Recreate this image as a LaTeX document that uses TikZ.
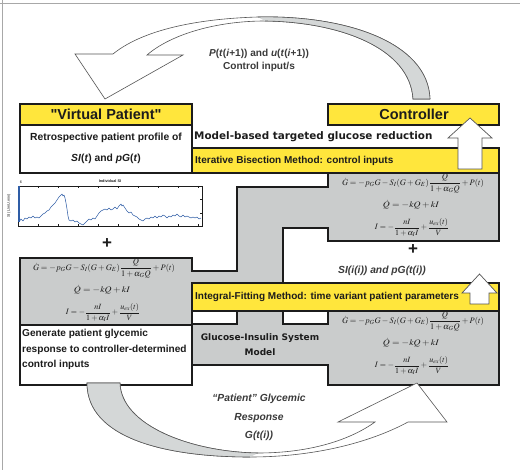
\documentclass[tikz,border=0pt]{standalone}
\usepackage{amsmath}
\usepackage{mathptmx}
\usepackage[no-math]{fontspec}
\setmainfont{Liberation Sans}
\newfontfamily\heavyfont{DejaVu Sans}
\newfontfamily\plainfont{Liberation Sans}[Ligatures=TeXOff]
\usetikzlibrary{calc}
\definecolor{vpink}{HTML}{1C1C1C}
\definecolor{vpsoft}{HTML}{3A3A3A}
\definecolor{vpyellow}{HTML}{FFE63C}
\definecolor{vpgray}{HTML}{CACCCC}
\definecolor{vptwist}{HTML}{D4D7D7}
\definecolor{vpedge}{HTML}{555555}
\definecolor{vpframe}{HTML}{A8A8A8}
\definecolor{vpblue}{HTML}{2F5DA6}
\newcommand\widen[1]{\scalebox{1.15}[1]{#1}}

\begin{document}
\begin{tikzpicture}[x=1pt, y=-1pt, font=\bfseries\fontsize{10.3}{12}\selectfont, text=vpink,
    outerframe/.style={draw=vpframe, line width=0.9pt},
    panel/.style={fill=vpgray, draw=vpink, line width=1.5pt},
    hdr/.style={fill=vpyellow, draw=vpink, line width=1.5pt},
    card/.style={fill=white, draw=vpink, line width=1.5pt},
    ribbon/.style={fill=white, draw=vpedge, line width=0.6pt},
    twist/.style={fill=vptwist, draw=none},
    uparrow/.style={fill=white, draw=vpedge, line width=0.7pt},
    boxtitle/.style={font=\plainfont\bfseries\fontsize{14.5}{16}\selectfont},
    heavy/.style={font=\heavyfont\bfseries\fontsize{10.4}{12}\selectfont, anchor=west, inner sep=0pt},
    method/.style={font=\bfseries\fontsize{10}{12}\selectfont, anchor=west, inner sep=0pt},
    eqn/.style={font=\fontsize{8.4}{9}\selectfont, inner sep=0pt},
    flow/.style={text=vpsoft, align=center, inner sep=0pt},
    plus/.style={font=\bfseries\fontsize{17}{17}\selectfont, inner sep=0pt},
    tick/.style={draw=vpink, line width=0.3pt},
    tiny/.style={font=\fontsize{3.8}{4}\selectfont, inner sep=0pt},
  ]
  \useasboundingbox (0,0) rectangle (520,470);

  % frame, top and left edges only
  \draw[outerframe] (0,3) -- (520,3);
  \draw[outerframe] (2,0) -- (2,470);

  % grey model panel: one outline, with the open pocket for SI and pG
  \draw[panel] (20,258) -- (192,258) -- (192,271) -- (237,271) -- (237,187) -- (328,187)
    -- (328,173) -- (499,173) -- (499,241) -- (328,241) -- (328,228) -- (283,228)
    -- (283,283) -- (499,283) -- (499,385) -- (328,385) -- (328,365) -- (192,365)
    -- (192,325) -- (20,325) -- cycle;

  % method bars and the two notches under the fitting bar
  \draw[hdr] (192,148) rectangle (499,173);
  \draw[hdr] (192,283) rectangle (499,311);
  \draw[card] (192,311) rectangle (237,324);
  \draw[card] (283,311) rectangle (328,324);

  % patient and controller boxes
  \draw[hdr] (20,104) rectangle (192,125);
  \draw[card] (20,125) rectangle (192,173);
  \draw[hdr] (328,104) rectangle (499,125);
  \draw[card] (20,325) rectangle (192,385);

  \node[boxtitle] (vptitle) at (106,114.5) {"Virtual Patient"};
  \node[boxtitle] (ctrltitle) at (414,114.5) {Controller};
  \node[align=center, font=\bfseries\fontsize{10.3}{21}\selectfont] (profile) at (106,148.5)
    {Retrospective patient profile of\\\textit{SI}(\textit{t}) and \textit{pG}(\textit{t})};
  \node[heavy] (targeted) at (194,137) {Model-based targeted glucose reduction};
  \node[method] (bisect) at (195,160.5) {Iterative Bisection Method: control inputs};
  \node[method] (fitting) at (195,297) {Integral-Fitting Method: time variant patient parameters};
  \node[align=center, font=\heavyfont\bfseries\fontsize{9}{15}\selectfont] (gimodel) at (260,344.5)
    {Glucose-Insulin System\\Model};
  \node[anchor=north west, align=left, inner sep=0pt, font=\bfseries\fontsize{10.1}{15.5}\selectfont] (generate) at (22,329)
    {Generate patient glycemic\\response to controller-determined\\control inputs};

  % model equations, same three lines in each grey box
  \foreach \cx/\cy [count=\k] in {413/173, 104/258, 413/311} {
    \node[eqn] (eqg\k) at (\cx, \cy+10.5) {$\dot{G}=-p_G G-S_I(G+G_E)\dfrac{Q}{1+\alpha_G Q}+P(t)$};
    \node[eqn] (eqq\k) at (\cx-2, \cy+32) {\widen{$\dot{Q}=-kQ+kI$}};
    \node[eqn, font=\fontsize{8}{9}\selectfont] (eqi\k) at (\cx-1, \cy+54.5) {$\dot{I}=-\dfrac{nI}{1+\alpha_I I}+\dfrac{u_{ex}(t)}{V}$};
  }

  \node[plus] (plusleft) at (107,244) {+};
  \node[plus] (plusright) at (413,250) {+};
  \node[flow, font=\bfseries\itshape\fontsize{10.3}{12}\selectfont] (sipg) at (382,271) {SI(i(i)) and pG(t(i))};

  % SI profile trace
  \draw[tick, line width=0.4pt] (18,186) rectangle (202,226);
  \foreach \tx in {38,58,...,198} {
    \draw[tick] (\tx,186) -- (\tx,188);
    \draw[tick] (\tx,226) -- (\tx,224);
  }
  \foreach \ty in {199.3,212.7} {
    \draw[tick] (18,\ty) -- (20,\ty);
    \draw[tick] (202,\ty) -- (200,\ty);
  }
  \draw[vpblue, line width=1.2pt] (19,186) -- (19,222);
  \draw[vpblue, line width=0.5pt, line join=round] plot coordinates {
    (19,222) (21,219) (23,221) (25,218) (27,219) (29,217) (31,218) (33,216) (35,218) (37,217)
    (39,218) (41,216) (43,214) (45,213) (47,211) (49,210) (51,207) (53,205) (55,203) (57,200)
    (59,197) (61,195) (62,194) (63,196) (64,195) (65,198) (66,203) (67,209) (68,216) (69,220)
    (71,221) (73,220) (75,222) (77,221) (79,223) (81,224) (83,225) (85,223) (87,221) (89,219)
    (91,220) (93,218) (95,219) (97,216) (99,213) (101,211) (103,210) (105,209) (107,210) (109,208)
    (111,210) (113,209) (115,207) (117,209) (119,206) (121,204) (122,206) (123,205) (125,208) (127,211)
    (129,213) (131,212) (133,215) (135,216) (137,217) (139,219) (141,220) (143,221) (145,219) (147,218)
    (149,219) (151,217) (153,218) (155,216) (157,218) (159,216) (161,217) (163,215) (165,216) (167,218)
    (169,216) (171,217) (173,215) (175,216) (177,214) (179,216) (181,217) (183,215) (185,217) (187,216)
    (189,217) (191,218) (193,217) (195,218) (197,217) (199,219) (201,218)};
  \node[tiny, font=\bfseries\fontsize{3.8}{4}\selectfont] (plottitle) at (110,181) {Individual SI};
  \node[tiny] (plotexp) at (21,182) {6};
  \node[tiny, rotate=90] (plotylabel) at (9,206) {SI (L/mU.min)};

  % control inputs: ribbon arrow from the controller back to the patient
  \draw[ribbon] (430,99) .. controls (428,42) and (345,15) .. (258,17)
    .. controls (190,19) and (140,32) .. (113,54) -- (75,54) -- (105,99) -- (183,55) -- (147,55)
    .. controls (170,35) and (215,21) .. (265,21) .. controls (340,22) and (410,48) .. (413,99) -- cycle;
  \fill[twist] (430,99) .. controls (428,42) and (345,15) .. (258,17) -- (265,21)
    .. controls (340,22) and (410,48) .. (413,99) -- cycle;
  \draw[vpedge, line width=0.6pt] (430,99) .. controls (428,42) and (345,15) .. (258,17);
  \draw[vpedge, line width=0.6pt] (265,21) .. controls (340,22) and (410,48) .. (413,99) -- (430,99);
  \node[flow, font=\bfseries\fontsize{10.1}{13}\selectfont] (ctrlinput) at (259,60.5)
    {\textit{P}(\textit{t}(\textit{i}+1)) and \textit{u}(\textit{t}(\textit{i}+1))\\Control input/s};

  % glycemic response: ribbon arrow from the patient to the controller
  \draw[ribbon] (87,383) .. controls (87,438) and (165,457) .. (250,457)
    .. controls (320,457) and (375,440) .. (408,422) -- (447,422) -- (417,383) -- (338,422) -- (375,422)
    .. controls (350,440) and (310,453) .. (258,453) .. controls (190,452) and (121,425) .. (120,383) -- cycle;
  \fill[twist] (87,383) .. controls (87,438) and (165,457) .. (250,457) -- (258,453)
    .. controls (190,452) and (121,425) .. (120,383) -- cycle;
  \draw[vpedge, line width=0.6pt] (120,383) -- (87,383) .. controls (87,438) and (165,457) .. (250,457);
  \draw[vpedge, line width=0.6pt] (258,453) .. controls (190,452) and (121,425) .. (120,383);
  \node[flow, font=\bfseries\itshape\fontsize{10.3}{18.5}\selectfont] (response) at (259,417.5)
    {“Patient” Glycemic\\Response\\G(t(i))};

  % block arrows up into the controller and up from the fitting bar
  \draw[uparrow] (458,169) -- (458,138) -- (448,138) -- (470,118) -- (492,138) -- (482,138) -- (482,169) -- cycle;
  \draw[uparrow] (470,304) -- (470,293) -- (462,293) -- (479.5,274) -- (497,293) -- (489,293) -- (489,304) -- cycle;
\end{tikzpicture}
\end{document}
